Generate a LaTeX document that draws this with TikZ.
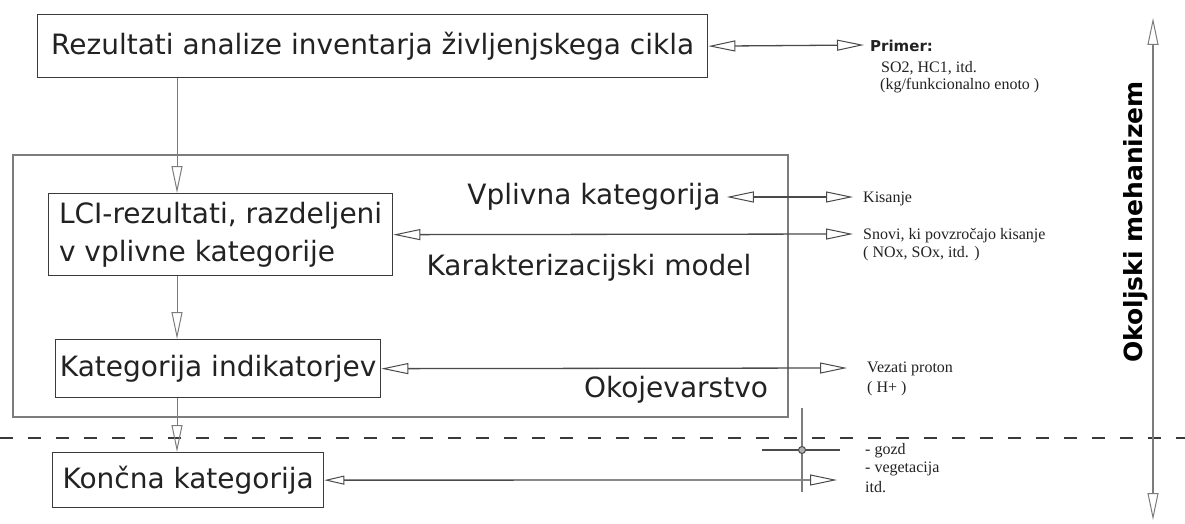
\documentclass[tikz,border=0pt]{standalone}
\usepackage{fontspec}
\setmainfont{DejaVu Sans}
\newfontfamily\lblfont{DejaVu Sans}
\newfontfamily\notefont{Liberation Serif}
\usetikzlibrary{arrows.meta}

\definecolor{boxline}{HTML}{3A3A3A}
\definecolor{frameline}{HTML}{7C7C7C}
\definecolor{txt}{HTML}{222222}
\definecolor{wire}{HTML}{4A4A4A}

\tikzset{
  OH/.tip={Triangle[open,length=27pt,width=11pt,line width=1pt]},
  OHs/.tip={Triangle[open,length=20pt,width=9pt,line width=1pt]},
  box/.style={draw=boxline,line width=1.3pt,fill=white,inner sep=0pt,
    font=\lblfont\fontsize{28}{38}\selectfont,text=txt,anchor=north west},
  lbl/.style={inner sep=0pt,font=\lblfont\fontsize{28}{32}\selectfont,text=txt},
  note/.style={inner sep=0pt,anchor=west,text=txt,
    font=\notefont\fontsize{16}{19}\selectfont},
  flow/.style={draw=frameline,line width=1pt,-OH},
  link/.style={draw=wire,line width=1.3pt,OH-OH},
}

\begin{document}
\begin{tikzpicture}[x=1pt,y=-1pt]
\useasboundingbox[fill=white] (0,0) rectangle (1185,524);

% impact assessment frame
\draw[frameline,line width=1.5pt] (13,155) rectangle (788,417);
\draw[frameline,line width=2.5pt] (13,155) -- (13,417);

% boundary between midpoint and endpoint
\draw[boxline,line width=2pt,dash pattern=on 13pt off 15pt] (0,438) -- (1185,438);

% main chain of boxes
\node[box,minimum width=670pt,minimum height=63pt] (tb) at (37,14)
  {Rezultati analize inventarja življenjskega cikla};
\node[box,minimum width=344pt,minimum height=82pt,align=left] (lci) at (48,193)
  {LCI-rezultati, razdeljeni\\v vplivne kategorije};
\node[box,minimum width=325pt,minimum height=58pt] (ki) at (55,339)
  {Kategorija indikatorjev};
\node[box,minimum width=271pt,minimum height=55pt] (kk) at (52,452)
  {Končna kategorija};

% labels inside the frame
\node[lbl,inner xsep=6pt] (vk) at (594,197) {Vplivna kategorija};
\node[lbl] (km) at (589,268) {Karakterizacijski model};
\node[lbl] (ok) at (676,390) {Okojevarstvo};

% vertical flow
\coordinate (xc) at (177,0);
\draw[flow] (tb.south -| xc) -- (lci.north -| xc);
\draw[flow] (lci.south -| xc) -- (ki.north -| xc);
\draw[flow] (ki.south -| xc) -- (kk.north -| xc);

% example notes
\node[inner sep=0pt,anchor=west,text=txt,font=\bfseries\fontsize{15}{17}\selectfont] (pr) at (870,46) {Primer:};
\node[note] (n1a) at (881,68) {SO2, HC1, itd.};
\node[note] (n1b) at (880,86) {(kg/funkcionalno enoto )};
\node[note] (n2) at (863,199) {Kisanje};
\node[note] (n3a) at (863,236) {Snovi, ki povzročajo kisanje};
\node[note] (n3b) at (863,254) {( NOx, SOx, itd. )};
\node[note] (n4a) at (867,369) {Vezati proton};
\node[note] (n4b) at (867,389) {( H+ )};
\node[note] (n5a) at (865,451) {- gozd};
\node[note] (n5b) at (865,469) {- vegetacija};
\node[note] (n5c) at (865,487) {itd.};

% horizontal links
\coordinate (p1) at (864,45);
\coordinate (p2) at (853,197);
\coordinate (p3) at (853,234);
\coordinate (p4) at (847,368);
\coordinate (p5) at (837,480);
\draw[link] (tb.east) -- (p1);
\draw[link] (vk.east) -- (p2);
\draw[link] (lci.east) -- (p3);
\draw[link] (ki.east) -- (p4);
\draw[draw=wire,line width=1.3pt,OHs-OH] (kk.east) -- (p5);

% crossing marker
\coordinate (cx) at (802,450);
\coordinate (ct) at (802,408);
\coordinate (cb) at (802,492);
\coordinate (cl) at (762,450);
\coordinate (cr) at (840,450);
\draw[wire,line width=1.3pt] (cl) -- (cr);
\draw[frameline,line width=1.3pt] (ct) -- (cb);
\draw[wire,line width=1pt,fill=frameline!60] (cx) circle (3.5pt);

% environmental mechanism axis
\coordinate (mt) at (1153,18);
\coordinate (mb) at (1153,520);
\draw[frameline,line width=1.3pt,OH-OH] (mt) -- (mb);
\node[rotate=90,inner sep=0pt,text=black,font=\bfseries\fontsize{25}{28}\selectfont] (om) at (1136,222) {Okoljski mehanizem};
\end{tikzpicture}
\end{document}
